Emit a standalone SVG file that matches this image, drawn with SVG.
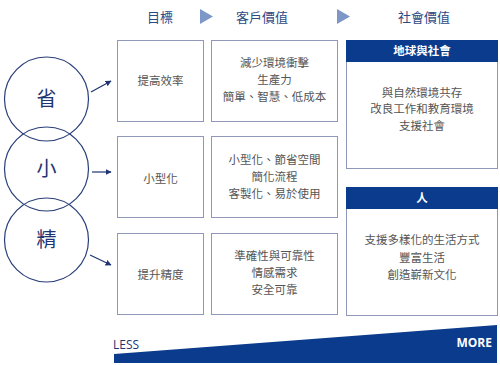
<svg xmlns="http://www.w3.org/2000/svg" width="500" height="365" viewBox="0 0 500 365">
<style>
text{font-family:"Noto Sans CJK TC","Noto Sans CJK SC",sans-serif;text-anchor:middle}
.hd{font-size:13px;fill:#2d4a86}
.bx{fill:#fff;stroke:#8f98b8;stroke-width:1}
.t{font-size:11.5px;fill:#555}
.c{fill:none;stroke:#2a3f7a;stroke-width:1.2}
.ct{font-size:20px;fill:#1f3573}
.bar{fill:#0b3b8c}
.bt{font-size:11.5px;fill:#fff;font-weight:bold}
.tri{fill:#7d98c6}
.ln{stroke:#1f3573;stroke-width:1.2;fill:none}
</style>
<defs>
<marker id="ah" viewBox="0 0 10 10" refX="9" refY="5" markerWidth="6" markerHeight="6" orient="auto" markerUnits="userSpaceOnUse"><path d="M0,0L10,5L0,10z" fill="#1f3573"/></marker>
</defs>
<rect width="500" height="365" fill="#fff"/>
<g id="header">
<text class="hd" x="160" y="22">目標</text>
<polygon class="tri" points="200,9 213,16.5 200,24"/>
<text class="hd" x="262" y="22">客戶價值</text>
<polygon class="tri" points="337,9 350,16.5 337,24"/>
<text class="hd" x="424" y="22">社會價值</text>
</g>
<g id="circle-sheng"><circle class="c" cx="46.5" cy="99" r="42"/><text class="ct" x="46.5" y="106">省</text></g>
<g id="circle-xiao"><circle class="c" cx="46.5" cy="169" r="42"/><text class="ct" x="46.5" y="176">小</text></g>
<g id="circle-jing"><circle class="c" cx="46.5" cy="240" r="42"/><text class="ct" x="46.5" y="247">精</text></g>
<g id="connectors">
<line class="ln" x1="91" y1="92" x2="111" y2="81" marker-end="url(#ah)"/>
<line class="ln" x1="92" y1="172" x2="111" y2="172" marker-end="url(#ah)"/>
<line class="ln" x1="90" y1="255" x2="111" y2="265" marker-end="url(#ah)"/>
</g>
<g id="goal-1"><rect class="bx" x="117.5" y="40.5" width="86" height="81"/><text class="t" x="160.5" y="85">提高效率</text></g>
<g id="goal-2"><rect class="bx" x="117.5" y="136.5" width="86" height="81"/><text class="t" x="160.5" y="183">小型化</text></g>
<g id="goal-3"><rect class="bx" x="117.5" y="233.5" width="86" height="81"/><text class="t" x="160.5" y="279">提升精度</text></g>
<g id="cust-1"><rect class="bx" x="211.5" y="40.5" width="126" height="81"/>
<text class="t" x="274.5" y="67">減少環境衝擊</text><text class="t" x="274.5" y="84">生產力</text><text class="t" x="274.5" y="101">簡單、智慧、低成本</text></g>
<g id="cust-2"><rect class="bx" x="211.5" y="136.5" width="126" height="81"/>
<text class="t" x="274.5" y="164">小型化、節省空間</text><text class="t" x="274.5" y="181">簡化流程</text><text class="t" x="274.5" y="198">客製化、易於使用</text></g>
<g id="cust-3"><rect class="bx" x="211.5" y="233.5" width="126" height="81"/>
<text class="t" x="274.5" y="260">準確性與可靠性</text><text class="t" x="274.5" y="277">情感需求</text><text class="t" x="274.5" y="294">安全可靠</text></g>
<g id="soc-1"><rect class="bx" x="346.5" y="40.5" width="151" height="128"/><rect class="bar" x="346" y="40" width="152" height="22"/>
<text class="bt" x="422" y="55">地球與社會</text>
<text class="t" x="422" y="97">與自然環境共存</text><text class="t" x="422" y="113">改良工作和教育環境</text><text class="t" x="422" y="130">支援社會</text></g>
<g id="soc-2"><rect class="bx" x="346.5" y="187.5" width="151" height="128"/><rect class="bar" x="346" y="187" width="152" height="22"/>
<text class="bt" x="422" y="202">人</text>
<text class="t" x="422" y="244">支援多樣化的生活方式</text><text class="t" x="422" y="262">豐富生活</text><text class="t" x="422" y="279">創造嶄新文化</text></g>
<g id="scale">
<polygon class="bar" points="114,354 497,325 497,363 114,363"/>
<text x="113" y="349" style="font-family:'Open Sans','Noto Sans',sans-serif;font-size:12px;fill:#1f3573;text-anchor:start">LESS</text>
<text x="492" y="347" style="font-family:'Open Sans','Noto Sans',sans-serif;font-size:12px;font-weight:bold;fill:#fff;text-anchor:end">MORE</text>
</g>
</svg>
